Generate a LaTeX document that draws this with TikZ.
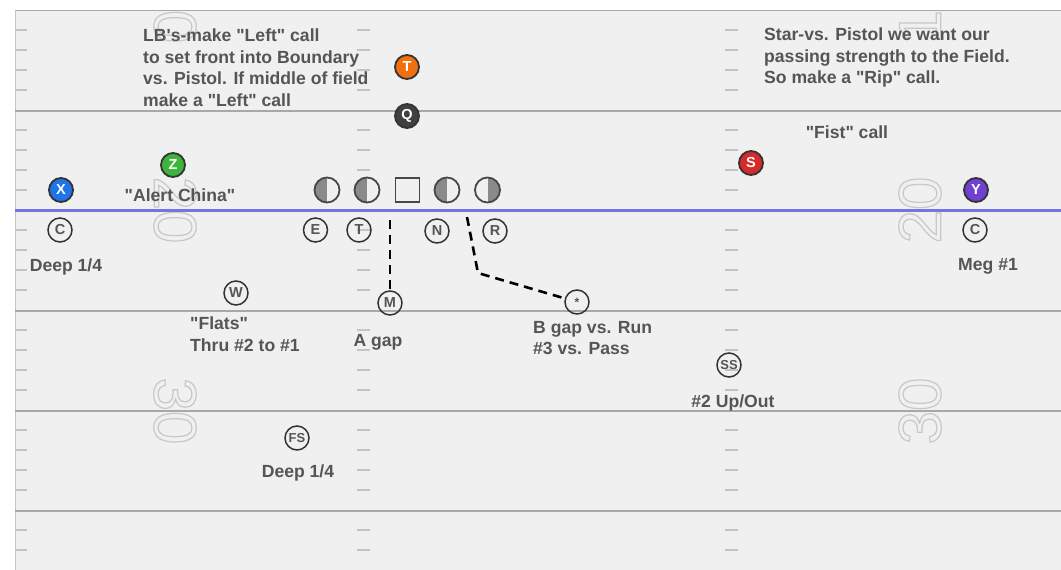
\documentclass[tikz,border=0pt]{standalone}
\usepackage{fontspec}
\setmainfont{Liberation Sans}[Ligatures=TeXOff]
\newfontfamily\numfont{Liberation Sans}[Ligatures=TeXOff]
\definecolor{field}{HTML}{F0F0F0}
\definecolor{yard}{HTML}{A8A8A8}
\definecolor{tickc}{HTML}{C4C4C4}
\definecolor{numc}{HTML}{C8C8C8}
\definecolor{los}{HTML}{7474E8}
\definecolor{txt}{HTML}{555555}
\definecolor{rim}{HTML}{333333}
\definecolor{olgray}{HTML}{8A8A8A}
\definecolor{cX}{HTML}{1E74E8}
\definecolor{cZ}{HTML}{3DB43D}
\definecolor{cS}{HTML}{D42A2A}
\definecolor{cY}{HTML}{7040D0}
\definecolor{cT}{HTML}{F07010}
\definecolor{cQ}{HTML}{404040}
\newcommand\outl[1]{\special{pdf:literal direct 1 Tr 1.2 w}#1\special{pdf:literal direct 0 Tr}}
\tikzset{
  offp/.style={circle, draw=rim, line width=1.8pt, minimum size=24pt, inner sep=0pt,
    fill=#1, text=white, font=\fontsize{14.5}{15}\selectfont\bfseries},
  defp/.style={circle, draw=rim, line width=1.5pt, minimum size=24pt, inner sep=0pt,
    text=txt, font=\fontsize{14.5}{15}\selectfont\bfseries},
  olc/.style={circle, draw=rim!90, line width=1.8pt, minimum size=25pt, inner sep=0pt, fill=field},
  halfl/.style={olc, path picture={\fill[olgray] (path picture bounding box.south west) rectangle (path picture bounding box.north);}},
  halfr/.style={olc, path picture={\fill[olgray] (path picture bounding box.south) rectangle (path picture bounding box.north east);}},
  lbl/.style={text=txt, inner sep=0pt, font=\fontsize{17.6}{21.5}\selectfont\bfseries},
  yardline/.style={draw=yard, line width=2pt},
  tickm/.style={draw=tickc, line width=1.4pt},
  dsh/.style={draw=black, line width=2.6pt, dash pattern=on 9pt off 6pt},
  numtxt/.style={text=numc, inner sep=0pt, font=\fontsize{60}{60}\selectfont\numfont}
}
\begin{document}
\begin{tikzpicture}[x=1pt,y=-1pt]
\useasboundingbox (0,0) rectangle (1061,570);
\fill[white] (0,0) rectangle (1061,570);
\fill[field] (15,10) rectangle (1061,570);
% field numbers (outlined)
\begin{scope}
\clip (15,10) rectangle (1061,570);
\node[numtxt, rotate=-90] (n10l) at (175,10) {\outl{10}};
\node[numtxt, rotate=-90] (n20l) at (175,210) {\outl{20}};
\node[numtxt, rotate=-90] (n30l) at (175,411) {\outl{30}};
\node[numtxt, rotate=90] (n10r) at (920,10) {\outl{10}};
\node[numtxt, rotate=90] (n20r) at (920,210) {\outl{20}};
\node[numtxt, rotate=90] (n30r) at (920,411) {\outl{30}};
\end{scope}
% borders and yard lines
\draw[draw=yard, line width=1.5pt] (15,10.5) -- (1061,10.5);
\draw[draw=tickc, line width=1pt] (15.5,10) -- (15.5,570);
\foreach \yy in {110.5,310.5,410.5,511} {\draw[yardline] (15,\yy) -- (1061,\yy);}
% hash marks
\foreach \yy in {30,50,70,90,130,150,170,190,230,250,270,290,330,350,370,390,430,450,470,490,530,550} {
  \draw[tickm] (15,\yy) -- (27,\yy);
  \draw[tickm] (357,\yy) -- (370,\yy);
  \draw[tickm] (725,\yy) -- (738,\yy);
}
% line of scrimmage
\draw[draw=los, line width=3pt] (15,210.5) -- (1061,210.5);
% offense
\node[offp=cT] (T) at (407,67) {T};
\node[offp=cQ] (Q) at (407,116) {Q};
\node[offp=cZ] (Z) at (173,165) {Z};
\node[offp=cX] (X) at (61,190) {X};
\node[offp=cS] (S) at (751,163) {S};
\node[offp=cY] (Y) at (976,190) {Y};
\node[halfl] (OL1) at (327,190) {};
\node[halfl] (OL2) at (367,190) {};
\node[rectangle, draw=rim!90, line width=1.8pt, minimum size=24pt, inner sep=0pt, fill=field] (CC) at (407.5,190) {};
\node[halfl] (OL4) at (447,190) {};
\node[halfr] (OL5) at (487.5,190) {};
% defense
\node[defp] (CL) at (60,230) {C};
\node[defp] (E) at (315.5,230) {E};
\node[defp] (DT) at (359,230) {T};
\node[defp] (N) at (437,231) {N};
\node[defp] (R) at (495,231) {R};
\node[defp] (W) at (236,293) {W};
\node[defp] (M) at (390,303) {M};
\node[defp, font=\fontsize{12}{12}\selectfont\bfseries] (ST) at (577,302) {*};
\node[defp, font=\fontsize{13}{13}\selectfont\bfseries] (SS) at (729,365) {SS};
\node[defp, font=\fontsize{13}{13}\selectfont\bfseries] (FS) at (297,438) {FS};
\node[defp] (CR) at (975,230) {C};
% dashed paths
\coordinate (mtop) at (390,220);
\draw[dsh] (mtop) -- (M);
\coordinate (rs) at (467,217);
\coordinate (rc) at (478,273);
\draw[dsh] (rs) -- (rc) -- (ST);
% labels
\node[lbl, anchor=north west, align=left] (lbtxt) at (143,29) {LB's-make "Left" call\\to set front into Boundary\\vs. Pistol. If middle of field\\make a "Left" call};
\node[lbl, anchor=north west, align=left] (startxt) at (764,28) {Star-vs. Pistol we want our\\passing strength to the Field.\\So make a "Rip" call.};
\node[lbl, anchor=base] (fist) at (847,138) {"Fist" call};
\node[lbl, anchor=base] (alert) at (180,201) {"Alert China"};
\node[lbl, anchor=base] (deepl) at (66,271) {Deep 1/4};
\node[lbl, anchor=base] (meg) at (988,270) {Meg \#1};
\node[lbl, anchor=north west, align=left] (flats) at (190,317) {"Flats"\\Thru \#2 to \#1};
\node[lbl, anchor=base] (agap) at (378,346) {A gap};
\node[lbl, anchor=north west, align=left] (bgap) at (533,321) {B gap vs. Run\\\#3 vs. Pass};
\node[lbl, anchor=base] (upout) at (733,407) {\#2 Up/Out};
\node[lbl, anchor=base] (deepb) at (298,477) {Deep 1/4};
\end{tikzpicture}
\end{document}
